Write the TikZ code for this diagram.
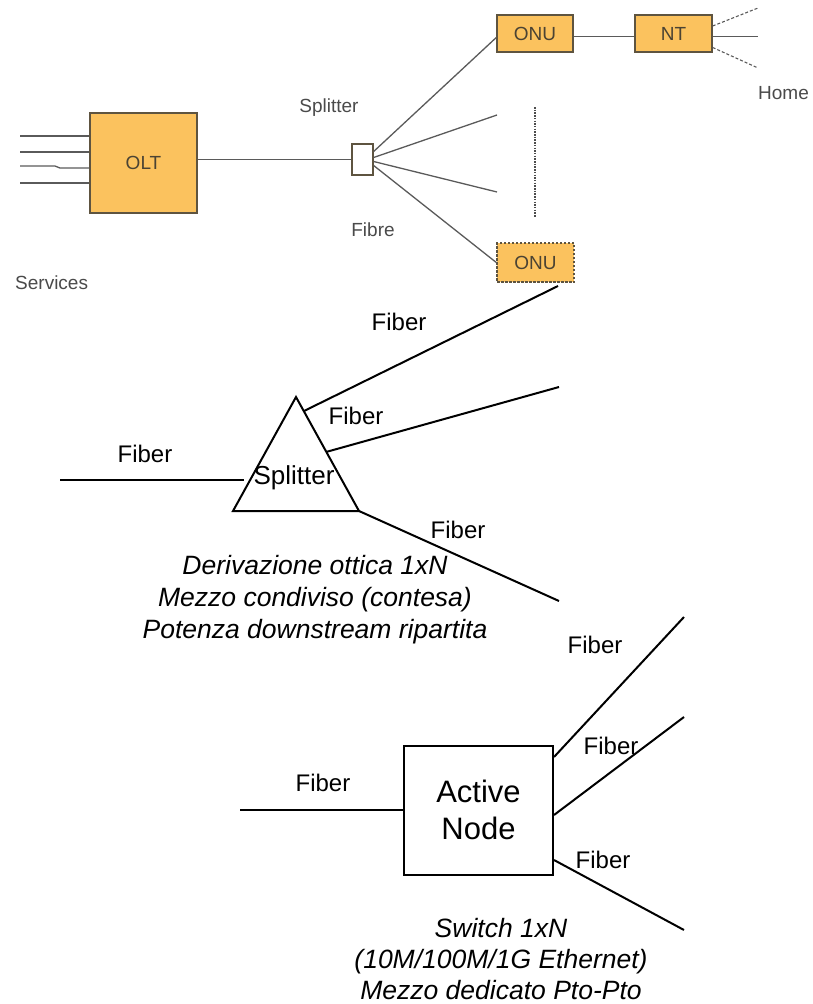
\documentclass[tikz,border=0pt]{standalone}
\usepackage{fontspec}
\setmainfont{Liberation Sans}
\definecolor{onuorange}{HTML}{FBC25E}
\definecolor{boxedge}{HTML}{5E5440}
\definecolor{wiregray}{HTML}{5A5A5A}
\definecolor{labelgray}{HTML}{4A4A4A}
\tikzset{
  unitbox/.style={draw=boxedge, line width=1.4pt, fill=onuorange, inner sep=0pt,
    font=\fontsize{19}{22}\selectfont, text=boxedge!80!black},
  wire/.style={draw=wiregray, line width=1.3pt},
  homewire/.style={draw=wiregray, line width=1.1pt, dash pattern=on 3pt off 2pt},
  toplabel/.style={font=\fontsize{19}{22}\selectfont, text=labelgray, inner sep=0pt},
  fiber/.style={draw=black, line width=2pt},
  fiberlabel/.style={font=\fontsize{24}{28}\selectfont, inner sep=0pt},
  note/.style={font=\fontsize{26.5}{32}\selectfont\itshape, align=center, inner sep=0pt}
}
\begin{document}
\begin{tikzpicture}[x=1pt, y=-1pt]
  \useasboundingbox (0,0) rectangle (812,1004);

  % ---------- PON access network ----------
  \node[unitbox, minimum width=107pt, minimum height=100pt] (olt) at (143.5,163) {OLT};
  \node[draw=boxedge, line width=1.3pt, fill=white, minimum width=21pt, minimum height=31pt, inner sep=0pt] (spl) at (362.5,159.5) {};
  \node[unitbox, minimum width=76pt, minimum height=37pt] (onu1) at (535,33.5) {ONU};
  \node[unitbox, minimum width=77pt, minimum height=37pt] (nt) at (673.5,33.5) {NT};
  \node[unitbox, dash pattern=on 2.5pt off 1.5pt, minimum width=77pt, minimum height=39pt] (onu2) at (535.5,262.5) {ONU};

  % service inputs
  \coordinate (s1) at (20,136);
  \coordinate (s2) at (20,152);
  \coordinate (s3) at (20,166);
  \coordinate (s4) at (20,183);
  \draw[wire] (s1) -- ([yshift=27pt]olt.west);
  \draw[wire] (s2) -- ([yshift=11pt]olt.west);
  \draw[wire] (s3) -- ++(35,0) -- ++(5,2) -- ([yshift=-5pt]olt.west);
  \draw[wire] (s4) -- ([yshift=-20pt]olt.west);

  % feeder and drop fibres
  \draw[wire] (olt.east |- spl.west) -- (spl.west);
  \coordinate (e2) at (497,115);
  \coordinate (e3) at (497,192);
  \draw[wire] ([yshift=8pt]spl.east) -- ([yshift=-4pt]onu1.west);
  \draw[wire] ([yshift=2pt]spl.east) -- (e2);
  \draw[wire] ([yshift=-2pt]spl.east) -- (e3);
  \draw[wire] ([yshift=-6pt]spl.east) -- (onu2.west);

  % more ONUs implied
  \coordinate (d1) at (535,107);
  \coordinate (d2) at (535,217);
  \draw[draw=wiregray!85!black, line width=2pt, dash pattern=on 1.5pt off 1.2pt] (d1) -- (d2);

  % ONU to NT to home
  \draw[wire] ([yshift=-3pt]onu1.east) -- ([yshift=-3pt]nt.west);
  \coordinate (h1) at (758,8);
  \coordinate (h2) at (758,36.5);
  \coordinate (h3) at (758,68);
  \draw[homewire] ([yshift=7.5pt]nt.east) -- (h1);
  \draw[wire] ([yshift=-3pt]nt.east) -- (h2);
  \draw[homewire] ([yshift=-14pt]nt.east) -- (h3);

  \node[toplabel] (lsplit) at (329,108) {Splitter};
  \node[toplabel] (lfibre) at (373,230) {Fibre};
  \node[toplabel, anchor=west] (lserv) at (15,283) {Services};
  \node[toplabel, anchor=west] (lhome) at (758,93) {Home};

  % ---------- passive splitter ----------
  \coordinate (tl) at (233,511);
  \coordinate (tr) at (359,511);
  \coordinate (tt) at (296,397);
  \draw[fiber, line join=miter] (tl) -- (tr) -- (tt) -- cycle;
  \node[font=\fontsize{26}{30}\selectfont, inner sep=0pt] (splname) at (294,478) {Splitter};

  \coordinate (pin) at (60,480);
  \coordinate (pinend) at (244,480);
  \coordinate (po1s) at (304,411);
  \coordinate (po1) at (558,286);
  \coordinate (po2s) at (326,452);
  \coordinate (po2) at (559,387);
  \coordinate (po3) at (559,601);
  \draw[fiber] (pin) -- (pinend);
  \draw[fiber] (po1s) -- (po1);
  \draw[fiber] (po2s) -- (po2);
  \draw[fiber] (tr) -- (po3);

  \node[fiberlabel] (pf0) at (145,454) {Fiber};
  \node[fiberlabel] (pf1) at (399,322) {Fiber};
  \node[fiberlabel] (pf2) at (356,416) {Fiber};
  \node[fiberlabel] (pf3) at (458,530) {Fiber};

  \node[note] (pnote) at (315,600) {Derivazione ottica 1xN\\Mezzo condiviso (contesa)\\Potenza downstream ripartita};

  % ---------- active node ----------
  \node[draw=black, line width=2pt, minimum width=149pt, minimum height=129pt, inner sep=0pt,
        align=center, font=\fontsize{31}{37}\selectfont] (act) at (478.5,810) {Active\\Node};

  \coordinate (ain) at (240,810);
  \coordinate (ao1) at (684,617);
  \coordinate (ao2) at (684,717);
  \coordinate (ao3) at (684,930);
  \draw[fiber] (ain) -- (act.west);
  \draw[fiber] ([yshift=53pt]act.east) -- (ao1);
  \draw[fiber] ([yshift=-5pt]act.east) -- (ao2);
  \draw[fiber] ([yshift=-50pt]act.east) -- (ao3);

  \node[fiberlabel] (af0) at (323,783) {Fiber};
  \node[fiberlabel] (af1) at (595,645) {Fiber};
  \node[fiberlabel] (af2) at (611,746) {Fiber};
  \node[fiberlabel] (af3) at (603,860) {Fiber};

  \node[note, font=\fontsize{26.5}{31}\selectfont\itshape] (anote) at (501,959) {Switch 1xN\\(10M/100M/1G Ethernet)\\Mezzo dedicato Pto-Pto};
\end{tikzpicture}
\end{document}
